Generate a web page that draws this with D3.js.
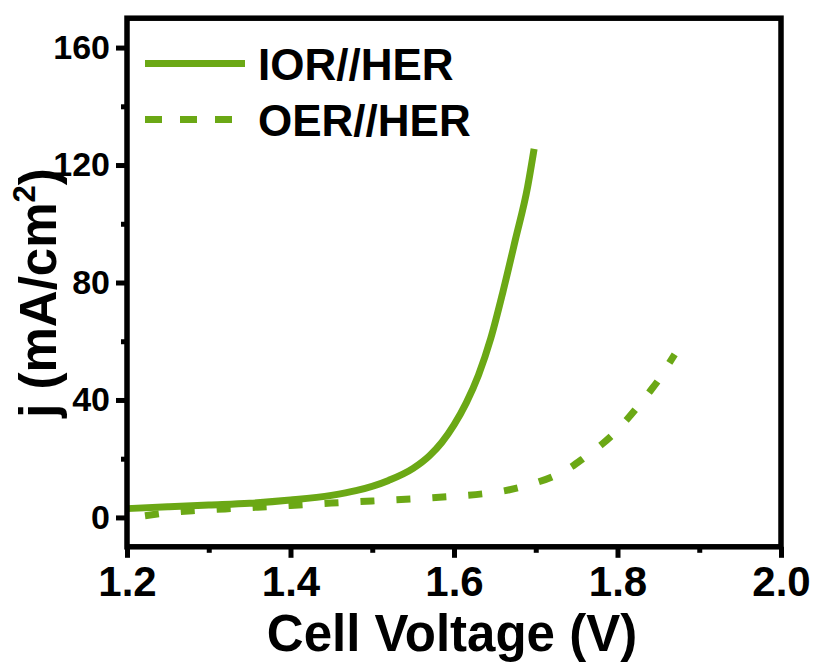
<!DOCTYPE html>
<html>
<head>
<meta charset="utf-8">
<script src="https://cdn.jsdelivr.net/npm/d3@7"></script>
<style>
  html, body { margin: 0; padding: 0; background: #fff; }
  svg { display: block; }
  text { font-family: "Liberation Sans", Arial, sans-serif; font-weight: bold; fill: #000; }
</style>
</head>
<body>
<svg id="chart" width="817" height="664"></svg>
<script>
// Polarization curves of the two-electrode cells
const iorVoltage = [1.20, 1.25, 1.30, 1.35, 1.40, 1.45, 1.48, 1.52, 1.55, 1.57, 1.585, 1.60, 1.615, 1.63, 1.645, 1.66, 1.675, 1.69, 1.698];
const iorCurrent = [3.0, 3.6, 4.2, 4.8, 5.9, 7.5, 9.1, 12.6, 16.7, 21.0, 25.5, 31.5, 39.0, 48.5, 61.0, 77.0, 94.5, 112.5, 125.5];

const oerVoltage = [1.222, 1.25, 1.28, 1.32, 1.36, 1.40, 1.45, 1.50, 1.55, 1.60, 1.64, 1.66, 1.70, 1.72, 1.744, 1.76, 1.78, 1.80, 1.811, 1.825, 1.839, 1.852, 1.864, 1.870];
const oerCurrent = [0.6, 1.6, 2.3, 2.9, 3.5, 4.1, 4.9, 5.6, 6.3, 7.2, 8.2, 9.0, 11.8, 13.8, 17.3, 20.5, 24.7, 29.8, 33.2, 37.8, 42.7, 47.5, 52.9, 55.5];

const seriesNames = ["IOR//HER", "OER//HER"];
const xTicks = [1.2, 1.4, 1.6, 1.8, 2.0];
const xMinorTicks = [1.3, 1.5, 1.7, 1.9];
const yTicks = [0, 40, 80, 120, 160];
const yMinorTicks = [20, 60, 100, 140];

const green = "#6ba815";

const svg = d3.select("#chart");

const x = d3.scaleLinear().domain([1.2, 2.0]).range([127, 781]);
const y = d3.scaleLinear().domain([-10, 170]).range([546.8, 18.2]);

const line = d3.line()
  .x(d => x(d[0]))
  .y(d => y(d[1]))
  .curve(d3.curveMonotoneX);

const iorData = iorVoltage.map((v, i) => [v, iorCurrent[i]]);
const oerData = oerVoltage.map((v, i) => [v, oerCurrent[i]]);

// curves
svg.append("path")
  .datum(oerData)
  .attr("d", line)
  .attr("fill", "none")
  .attr("stroke", green)
  .attr("stroke-width", 7)
  .attr("stroke-dasharray", "14,22");

svg.append("path")
  .datum(iorData)
  .attr("d", line)
  .attr("fill", "none")
  .attr("stroke", green)
  .attr("stroke-width", 7);

// axes (outward ticks)
const xAxis = svg.append("g")
  .attr("transform", `translate(0,${y(-10)})`)
  .call(d3.axisBottom(x).tickValues(xTicks).tickSize(11).tickPadding(8)
    .tickFormat(d3.format(".1f")));
xAxis.select(".domain").remove();
xAxis.selectAll(".tick line").attr("stroke", "#000").attr("stroke-width", 5);
xAxis.selectAll(".tick text").attr("font-size", 42).attr("dy", "0.71em")
  .attr("font-family", "Liberation Sans, Arial, sans-serif").attr("font-weight", "bold");

const xMinor = svg.append("g")
  .attr("transform", `translate(0,${y(-10)})`)
  .call(d3.axisBottom(x).tickValues(xMinorTicks).tickSize(6).tickFormat(""));
xMinor.select(".domain").remove();
xMinor.selectAll(".tick line").attr("stroke", "#000").attr("stroke-width", 5);

const yAxis = svg.append("g")
  .attr("transform", `translate(${x(1.2)},0)`)
  .call(d3.axisLeft(y).tickValues(yTicks).tickSize(11).tickPadding(6));
yAxis.select(".domain").remove();
yAxis.selectAll(".tick line").attr("stroke", "#000").attr("stroke-width", 5);
yAxis.selectAll(".tick text").attr("font-size", 34)
  .attr("font-family", "Liberation Sans, Arial, sans-serif").attr("font-weight", "bold");

const yMinor = svg.append("g")
  .attr("transform", `translate(${x(1.2)},0)`)
  .call(d3.axisLeft(y).tickValues(yMinorTicks).tickSize(6).tickFormat(""));
yMinor.select(".domain").remove();
yMinor.selectAll(".tick line").attr("stroke", "#000").attr("stroke-width", 5);

// frame
svg.append("rect")
  .attr("x", x(1.2)).attr("y", y(170))
  .attr("width", x(2.0) - x(1.2)).attr("height", y(-10) - y(170))
  .attr("fill", "none").attr("stroke", "#000").attr("stroke-width", 5.5);

// axis titles
svg.append("text")
  .attr("x", (x(1.2) + x(2.0)) / 2 - 2)
  .attr("y", 651)
  .attr("text-anchor", "middle")
  .attr("font-size", 51)
  .text("Cell Voltage (V)");

const yTitle = svg.append("text")
  .attr("transform", "translate(56,293) rotate(-90)")
  .attr("text-anchor", "middle")
  .attr("font-size", 51);
yTitle.append("tspan").text("j (mA/cm");
yTitle.append("tspan").attr("font-size", 31).attr("dy", -21).text("2");
yTitle.append("tspan").attr("dy", 21).text(")");

// legend
const legend = svg.append("g");
legend.append("line")
  .attr("x1", 145).attr("x2", 245).attr("y1", 63.5).attr("y2", 63.5)
  .attr("stroke", green).attr("stroke-width", 7);
legend.append("line")
  .attr("x1", 145).attr("x2", 245).attr("y1", 119.5).attr("y2", 119.5)
  .attr("stroke", green).attr("stroke-width", 7)
  .attr("stroke-dasharray", "17,18");
legend.selectAll("text.lab")
  .data(seriesNames)
  .enter().append("text")
  .attr("class", "lab")
  .attr("x", 258)
  .attr("y", (d, i) => 79.5 + i * 56)
  .attr("font-size", 44)
  .text(d => d);
</script>
</body>
</html>
